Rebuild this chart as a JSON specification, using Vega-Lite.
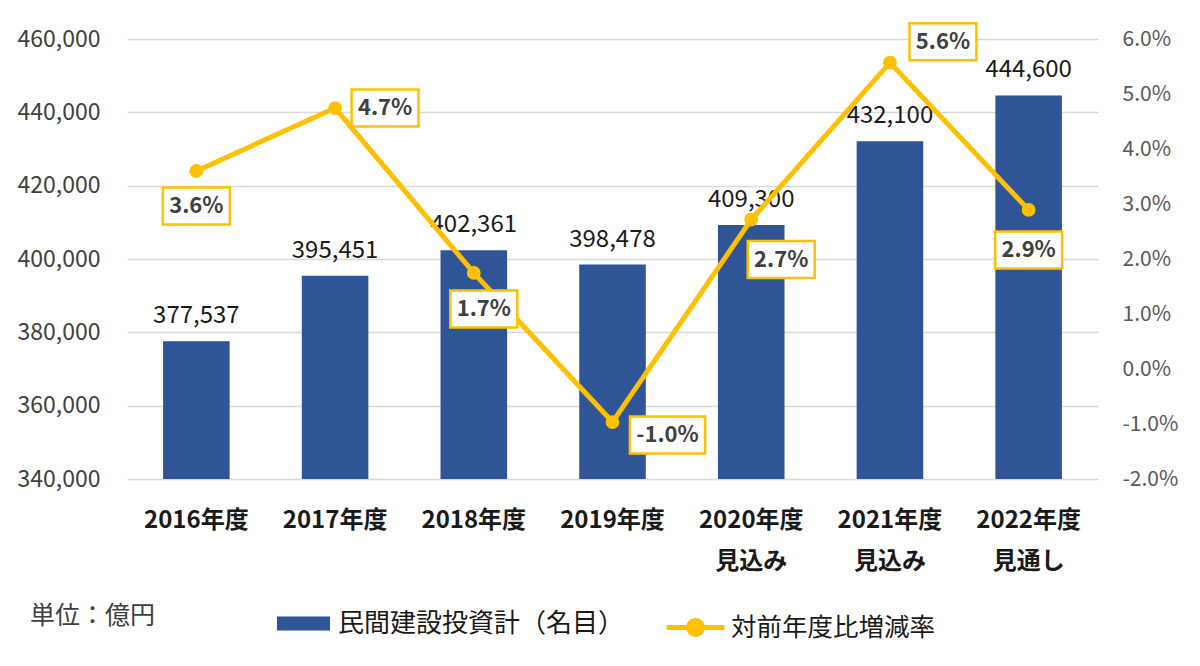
{
  "$schema": "https://vega.github.io/schema/vega-lite/v6.json",
  "autosize": {"type": "none"},
  "width": 971,
  "height": 440,
  "padding": {"left": 127, "top": 39, "right": 102, "bottom": 187},
  "background": "white",
  "config": {
    "view": {"stroke": null},
    "font": "Noto Sans CJK JP",
    "locale": {"number": {"decimal": ".", "thousands": ",", "grouping": [3], "currency": ["", ""], "minus": "-"}}
  },
  "title": {
    "text": "単位：億円",
    "orient": "bottom",
    "anchor": "start",
    "frame": "group",
    "dx": -97,
    "dy": -53,
    "offset": 12,
    "font": "Noto Sans CJK JP",
    "fontSize": 25,
    "fontWeight": "normal",
    "color": "#404040"
  },
  "data": {
    "values": [
      {"cat": "2016年度", "value": 377537, "rate": 0.036},
      {"cat": "2017年度", "value": 395451, "rate": 0.04745},
      {"cat": "2018年度", "value": 402361, "rate": 0.01747},
      {"cat": "2019年度", "value": 398478, "rate": -0.00965},
      {"cat": "2020年度 見込み", "value": 409300, "rate": 0.02716},
      {"cat": "2021年度 見込み", "value": 432100, "rate": 0.0557},
      {"cat": "2022年度 見通し", "value": 444600, "rate": 0.02893}
    ]
  },
  "encoding": {
    "x": {
      "field": "cat",
      "type": "nominal",
      "sort": null,
      "scale": {"paddingInner": 0, "paddingOuter": 0},
      "axis": {
        "title": null,
        "domain": false,
        "ticks": false,
        "labelAngle": 0,
        "labelFont": "Noto Sans CJK JP",
        "labelFontSize": 24,
        "labelFontWeight": "bold",
        "labelColor": "#1a1a1a",
        "labelPadding": 29,
        "labelBaseline": "top",
        "labelLineHeight": 41,
        "labelExpr": "split(datum.value, ' ')"
      }
    }
  },
  "layer": [
    {
      "encoding": {
        "y": {
          "field": "value",
          "type": "quantitative",
          "scale": {"domain": [340000, 460000], "zero": false, "nice": false},
          "axis": {
            "title": null,
            "orient": "left",
            "values": [340000, 360000, 380000, 400000, 420000, 440000, 460000],
            "labelExpr": "format(datum.value, ',')",
            "domain": false,
            "ticks": false,
            "grid": true,
            "gridColor": "#D9D9D9",
            "gridWidth": 1.3,
            "labelFont": "Noto Sans CJK JP",
            "labelFontSize": 23,
            "labelColor": "#404040",
            "labelPadding": 27
          }
        }
      },
      "layer": [
        {
          "mark": {"type": "bar", "width": {"band": 0.48}, "clip": true},
          "encoding": {
            "y2": {"datum": 340000},
            "fill": {
              "datum": "民間建設投資計（名目）",
              "scale": {"range": ["#2F5597"]},
              "legend": {
                "orient": "none",
                "legendX": 150,
                "legendY": 558,
                "title": null,
                "symbolType": "M-1,-0.26H1V0.26H-1Z",
                "symbolSize": 2809,
                "symbolStrokeWidth": 0,
                "labelFont": "Noto Sans CJK JP",
                "labelFontSize": 26,
                "labelColor": "#1a1a1a",
                "labelOffset": 8,
                "labelLimit": 0
              }
            }
          }
        },
        {
          "mark": {"type": "text", "baseline": "alphabetic", "align": "center", "dy": -18, "fontSize": 24, "font": "Noto Sans CJK JP", "color": "#1a1a1a"},
          "encoding": {
            "text": {"field": "value", "type": "quantitative", "format": ","}
          }
        }
      ]
    },
    {
      "encoding": {
        "y": {
          "field": "rate",
          "type": "quantitative",
          "scale": {"domain": [-0.02, 0.06], "zero": false, "nice": false},
          "axis": {
            "title": null,
            "orient": "right",
            "values": [-0.02, -0.01, 0, 0.01, 0.02, 0.03, 0.04, 0.05, 0.06],
            "format": ".1%",
            "domain": false,
            "ticks": false,
            "grid": false,
            "labelFont": "Noto Sans CJK JP",
            "labelFontSize": 21,
            "labelColor": "#595959",
            "labelPadding": 24
          }
        }
      },
      "layer": [
        {
          "mark": {"type": "line", "strokeWidth": 5},
          "encoding": {
            "stroke": {
              "datum": "対前年度比増減率",
              "scale": {"range": ["#FFC000"]},
              "legend": {
                "orient": "none",
                "legendX": 537,
                "legendY": 557,
                "title": null,
                "symbolType": "M-1,0H1M-0.24,0A0.24,0.24 0 1,0 0.24,0A0.24,0.24 0 1,0 -0.24,0",
                "symbolSize": 3364,
                "symbolStrokeWidth": 5,
                "symbolFillColor": "#FFC000",
                "labelFont": "Noto Sans CJK JP",
                "labelFontSize": 25.5,
                "labelColor": "#1a1a1a",
                "labelOffset": 4,
                "labelLimit": 0,
                "encode": {"symbols": {"update": {"fill": {"value": "#FFC000"}, "fillOpacity": {"value": 1}}}}
              }
            }
          }
        },
        {
          "mark": {"type": "point", "filled": true, "shape": "circle", "size": 190, "color": "#FFC000", "opacity": 1}
        },
        {
          "transform": [{"filter": "datum.cat == '2016年度'"}],
          "layer": [
            {"mark": {"type": "point", "shape": "M-1.81,-1H1.81V1H-1.81Z", "size": 1369, "filled": true, "fill": "white", "stroke": "#FFC000", "strokeWidth": 2.5, "opacity": 1, "xOffset": 0, "yOffset": 35}},
            {"mark": {"type": "text", "fontWeight": "bold", "fontSize": 22, "color": "#404040", "align": "center", "baseline": "middle", "xOffset": 0, "yOffset": 35}, "encoding": {"text": {"field": "rate", "type": "quantitative", "format": ".1%"}}}
          ]
        },
        {
          "transform": [{"filter": "datum.cat == '2017年度'"}],
          "layer": [
            {"mark": {"type": "point", "shape": "M-1.81,-1H1.81V1H-1.81Z", "size": 1369, "filled": true, "fill": "white", "stroke": "#FFC000", "strokeWidth": 2.5, "opacity": 1, "xOffset": 50, "yOffset": 0}},
            {"mark": {"type": "text", "fontWeight": "bold", "fontSize": 22, "color": "#404040", "align": "center", "baseline": "middle", "xOffset": 50, "yOffset": 0}, "encoding": {"text": {"field": "rate", "type": "quantitative", "format": ".1%"}}}
          ]
        },
        {
          "transform": [{"filter": "datum.cat == '2018年度'"}],
          "layer": [
            {"mark": {"type": "point", "shape": "M-1.81,-1H1.81V1H-1.81Z", "size": 1369, "filled": true, "fill": "white", "stroke": "#FFC000", "strokeWidth": 2.5, "opacity": 1, "xOffset": 10, "yOffset": 36}},
            {"mark": {"type": "text", "fontWeight": "bold", "fontSize": 22, "color": "#404040", "align": "center", "baseline": "middle", "xOffset": 10, "yOffset": 36}, "encoding": {"text": {"field": "rate", "type": "quantitative", "format": ".1%"}}}
          ]
        },
        {
          "transform": [{"filter": "datum.cat == '2019年度'"}],
          "layer": [
            {"mark": {"type": "point", "shape": "M-2.03,-1H2.03V1H-2.03Z", "size": 1369, "filled": true, "fill": "white", "stroke": "#FFC000", "strokeWidth": 2.5, "opacity": 1, "xOffset": 55, "yOffset": 13}},
            {"mark": {"type": "text", "fontWeight": "bold", "fontSize": 22, "color": "#404040", "align": "center", "baseline": "middle", "xOffset": 55, "yOffset": 13}, "encoding": {"text": {"field": "rate", "type": "quantitative", "format": ".1%"}}}
          ]
        },
        {
          "transform": [{"filter": "datum.cat == '2020年度 見込み'"}],
          "layer": [
            {"mark": {"type": "point", "shape": "M-1.81,-1H1.81V1H-1.81Z", "size": 1369, "filled": true, "fill": "white", "stroke": "#FFC000", "strokeWidth": 2.5, "opacity": 1, "xOffset": 30, "yOffset": 40}},
            {"mark": {"type": "text", "fontWeight": "bold", "fontSize": 22, "color": "#404040", "align": "center", "baseline": "middle", "xOffset": 30, "yOffset": 40}, "encoding": {"text": {"field": "rate", "type": "quantitative", "format": ".1%"}}}
          ]
        },
        {
          "transform": [{"filter": "datum.cat == '2021年度 見込み'"}],
          "layer": [
            {"mark": {"type": "point", "shape": "M-1.81,-1H1.81V1H-1.81Z", "size": 1369, "filled": true, "fill": "white", "stroke": "#FFC000", "strokeWidth": 2.5, "opacity": 1, "xOffset": 53, "yOffset": -21}},
            {"mark": {"type": "text", "fontWeight": "bold", "fontSize": 22, "color": "#404040", "align": "center", "baseline": "middle", "xOffset": 53, "yOffset": -21}, "encoding": {"text": {"field": "rate", "type": "quantitative", "format": ".1%"}}}
          ]
        },
        {
          "transform": [{"filter": "datum.cat == '2022年度 見通し'"}],
          "layer": [
            {"mark": {"type": "point", "shape": "M-1.81,-1H1.81V1H-1.81Z", "size": 1369, "filled": true, "fill": "white", "stroke": "#FFC000", "strokeWidth": 2.5, "opacity": 1, "xOffset": 0, "yOffset": 40}},
            {"mark": {"type": "text", "fontWeight": "bold", "fontSize": 22, "color": "#404040", "align": "center", "baseline": "middle", "xOffset": 0, "yOffset": 40}, "encoding": {"text": {"field": "rate", "type": "quantitative", "format": ".1%"}}}
          ]
        }
      ]
    }
  ],
  "resolve": {"scale": {"y": "independent"}}
}
